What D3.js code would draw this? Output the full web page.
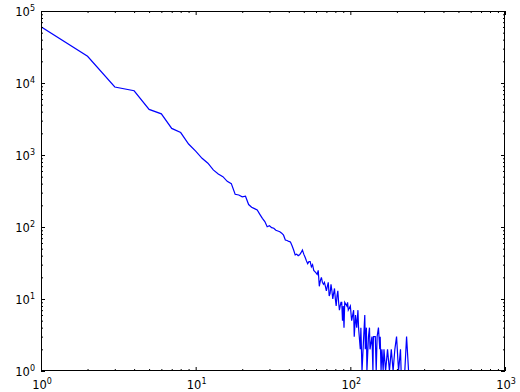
<!DOCTYPE html>
<html>
<head>
<meta charset="utf-8">
<script src="https://cdn.jsdelivr.net/npm/d3@7"></script>
<style>
  body { margin: 0; background: #fff; }
  svg { display: block; }
  .lbl { font-family: "DejaVu Sans", sans-serif; font-size: 11.5px; fill: #000; }
  .domain { display: none; }
</style>
</head>
<body>
<div id="vis"></div>
<script>
"use strict";
// degree -> number of nodes
var degrees = [1, 2, 3, 4, 5, 6, 7, 8, 9, 10, 11, 12, 13, 14, 15, 16, 17, 18, 19, 20,
  21, 22, 23, 24, 25, 26, 27, 28, 29, 30, 31, 32, 33, 34, 35, 36, 37, 38, 39, 40,
  41, 42, 43, 44, 45, 46, 47, 48, 49, 50, 51, 52, 53, 54, 55, 56, 57, 58, 59, 60,
  61, 62, 63, 64, 65, 66, 67, 68, 69, 70, 71, 72, 73, 74, 75, 76, 77, 78, 79, 80,
  81, 82, 83, 84, 85, 86, 87, 88, 89, 90, 91, 92, 95, 96, 97, 100, 102, 105, 106, 108,
  110, 112, 113, 116, 117, 119, 122, 124, 125, 127, 128, 131, 133, 134, 138, 140, 141, 145, 147, 149,
  152, 155, 156, 158, 160, 163, 165, 169, 174, 179, 184, 189, 194, 199, 205, 211, 213, 225, 231, 238];
var counts = [60500, 23500, 8800, 7800, 4300, 3730, 2340, 2050, 1420, 1130, 900, 770, 620, 545, 500, 430, 400, 285, 278, 262,
  268, 205, 188, 180, 172, 150, 132, 119, 101, 104, 98, 96, 90, 88, 86, 82, 77, 66, 65, 63,
  62, 55, 48, 41, 42, 40, 41, 44, 48, 42, 38, 34, 31, 33, 33, 28, 30, 25, 24, 23,
  22, 25, 15, 18, 20, 17, 16, 17, 15, 13, 15, 17, 11, 12, 16, 13, 10, 12, 14, 10,
  8, 11, 13, 9, 7, 8, 9, 9, 5, 8, 4, 9, 8, 9, 7, 8, 5, 7, 3, 6,
  4, 7, 4, 2, 4, 1, 3, 6, 2, 4, 1, 3, 4, 2, 3, 1, 3, 3, 1, 3,
  4, 2, 3, 1, 2, 1, 2, 1, 2, 1, 2, 1, 2, 3, 1, 2, 1, 1, 3, 1];
var xMajors = [1, 10, 100, 1000];
var yMajors = [1, 10, 100, 1000, 10000, 100000];

var W = 520, H = 392;
var plotL = 41, plotR = 505, plotT = 11, plotB = 371;

var svg = d3.select('#vis').append('svg')
  .attr('width', W).attr('height', H);

var x = d3.scaleLog().domain([1, 1000]).range([plotL, plotR]);
var y = d3.scaleLog().domain([1, 100000]).range([plotB, plotT]);

function minors(lo, hi) {
  var out = [];
  for (var d = lo; d < hi; d *= 10) {
    for (var k = 2; k <= 9; k++) out.push(d * k);
  }
  return out;
}
var xMinors = minors(1, 1000), yMinors = minors(1, 100000);

// line first, clipped to the plot area
svg.append('clipPath').attr('id', 'clip')
  .append('rect').attr('x', plotL).attr('y', plotT)
  .attr('width', plotR - plotL).attr('height', plotB - plotT);

var pts = degrees.map(function (d, i) { return [d, counts[i]]; });
svg.append('path')
  .datum(pts)
  .attr('clip-path', 'url(#clip)')
  .attr('fill', 'none')
  .attr('stroke', '#0000ff')
  .attr('stroke-width', 1.2)
  .attr('d', d3.line().x(function (p) { return x(p[0]); }).y(function (p) { return y(p[1]); }));

// inward ticks on all four sides
function ticks(axisFn, scale, vals, size, tr) {
  svg.append('g')
    .attr('transform', tr)
    .call(axisFn(scale).tickValues(vals).tickSize(-size).tickFormat(''))
    .selectAll('line').attr('stroke', '#000').attr('stroke-width', 1);
}
ticks(d3.axisBottom, x, xMajors, 4, 'translate(0,' + plotB + ')');
ticks(d3.axisBottom, x, xMinors, 2, 'translate(0,' + plotB + ')');
ticks(d3.axisTop, x, xMajors, 4, 'translate(0,' + plotT + ')');
ticks(d3.axisTop, x, xMinors, 2, 'translate(0,' + plotT + ')');
ticks(d3.axisLeft, y, yMajors, 4, 'translate(' + plotL + ',0)');
ticks(d3.axisLeft, y, yMinors, 2, 'translate(' + plotL + ',0)');
ticks(d3.axisRight, y, yMajors, 4, 'translate(' + plotR + ',0)');
ticks(d3.axisRight, y, yMinors, 2, 'translate(' + plotR + ',0)');

svg.append('rect')
  .attr('x', plotL + 0.5).attr('y', plotT + 0.5)
  .attr('width', plotR - plotL - 1).attr('height', plotB - plotT - 1)
  .attr('fill', 'none').attr('stroke', '#000').attr('stroke-width', 1);

function powLabel(sel) {
  sel.text('10');
  sel.append('tspan')
    .attr('dy', -5)
    .style('font-size', '8px')
    .text(function (v) { return Math.round(Math.log10(v)); });
}

svg.selectAll('.xl').data(xMajors).enter().append('text')
  .attr('class', 'lbl xl')
  .attr('x', function (v) { return x(v) + 1; })
  .attr('y', plotB + 18)
  .attr('text-anchor', 'middle')
  .call(powLabel);

svg.selectAll('.yl').data(yMajors).enter().append('text')
  .attr('class', 'lbl yl')
  .attr('x', plotL - 6)
  .attr('y', function (v) { return y(v) + 5; })
  .attr('text-anchor', 'end')
  .call(powLabel);
</script>
</body>
</html>
